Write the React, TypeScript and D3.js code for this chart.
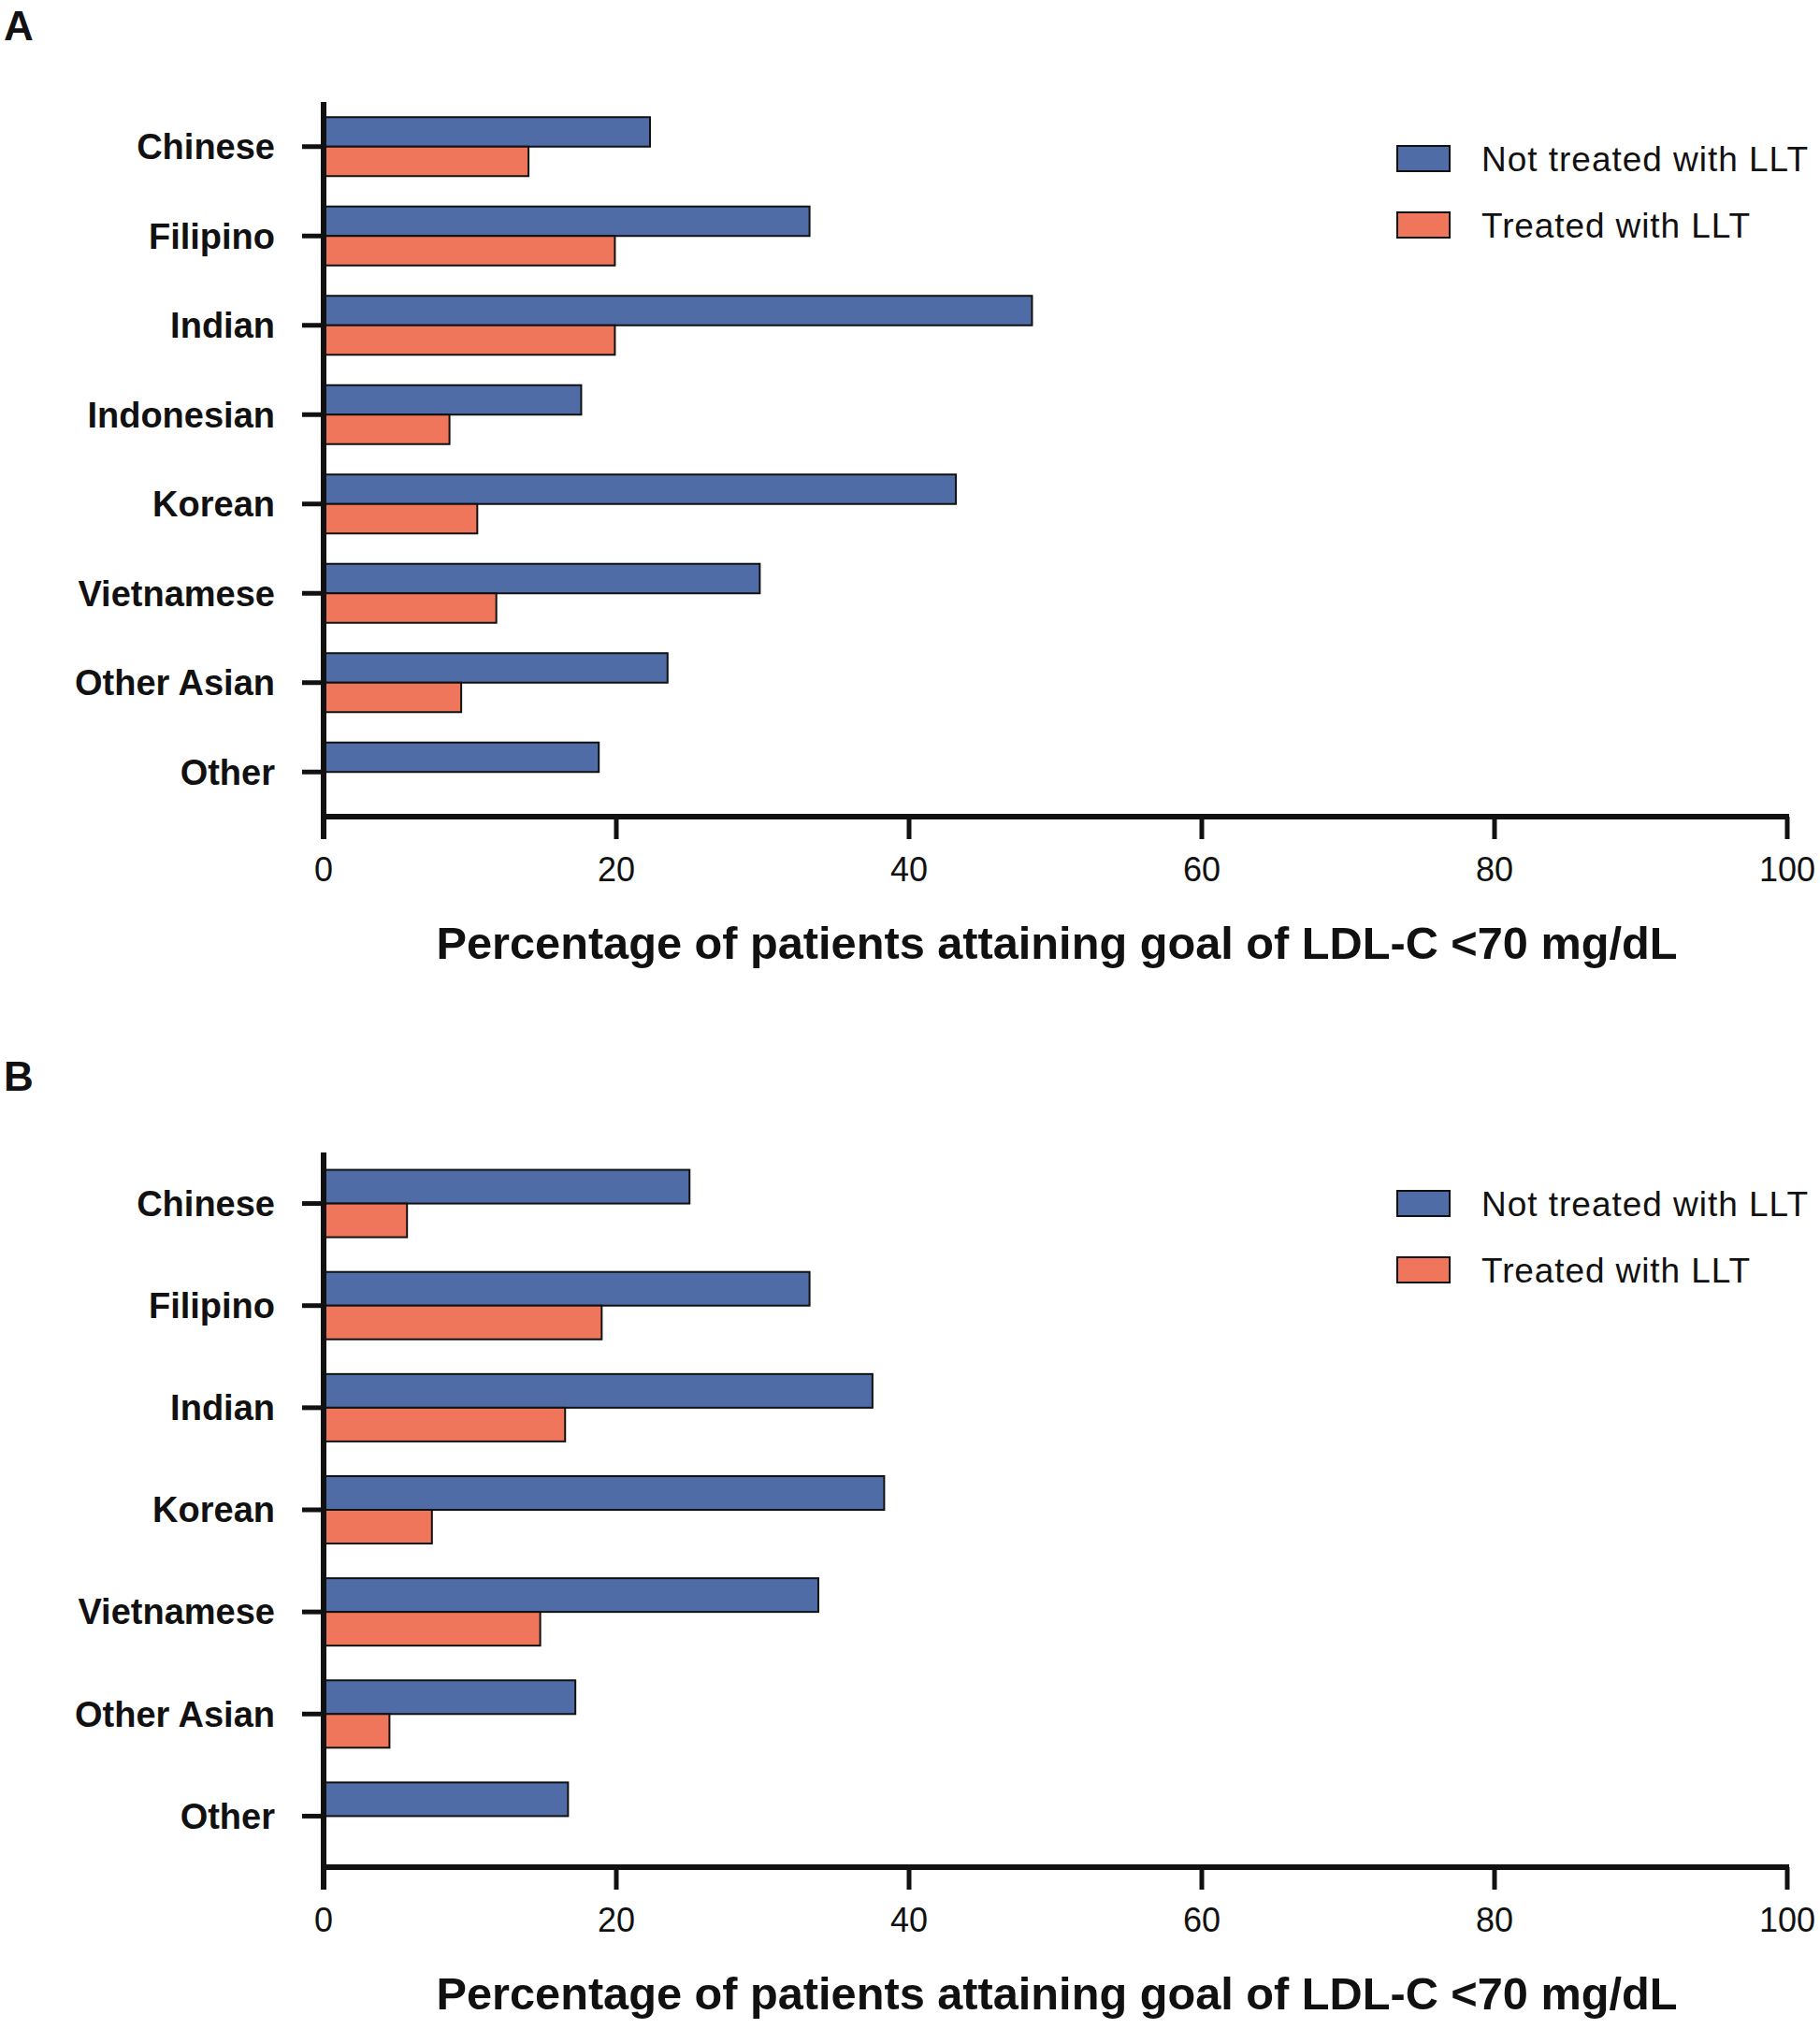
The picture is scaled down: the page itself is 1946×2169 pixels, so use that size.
import React from "react";
import * as d3 from "d3";

const categoriesA = ["Chinese", "Filipino", "Indian", "Indonesian", "Korean", "Vietnamese", "Other Asian", "Other"];
const notTreatedA = [22.3, 33.2, 48.4, 17.6, 43.2, 29.8, 23.5, 18.8];
const treatedA: (number | null)[] = [14.0, 19.9, 19.9, 8.6, 10.5, 11.8, 9.4, null];

const categoriesB = ["Chinese", "Filipino", "Indian", "Korean", "Vietnamese", "Other Asian", "Other"];
const notTreatedB = [25.0, 33.2, 37.5, 38.3, 33.8, 17.2, 16.7];
const treatedB: (number | null)[] = [5.7, 19.0, 16.5, 7.4, 14.8, 4.5, null];

const xTicks = [0, 20, 40, 60, 80, 100];
const seriesNames = ["Not treated with LLT", "Treated with LLT"];
const xTitle = "Percentage of patients attaining goal of LDL-C <70 mg/dL";

const BLUE = "#4F6CA7";
const RED = "#EF765B";
const FONT = "'Liberation Sans', Arial, Helvetica, sans-serif";

type PanelProps = {
  letter: string;
  categories: string[];
  blue: number[];
  red: (number | null)[];
  top: number;
  legendY: number;
};

function Panel({ letter, categories, blue, red, top, legendY }: PanelProps) {
  const x0 = 346;
  const x1 = 1911;
  const plotH = 764;
  const bottom = top + plotH;
  const x = d3.scaleLinear().domain([0, 100]).range([x0, x1]);
  const y = d3.scaleBand().domain(categories).range([top, bottom]).paddingInner(0).paddingOuter(0);
  const bw = y.bandwidth();
  const barH = bw * 0.33;

  return (
    <g>
      <text x={4} y={top - 66} fontFamily={FONT} fontWeight="bold" fontSize={44} fill="#111">
        {letter}
      </text>
      {categories.map((c, i) => {
        const cy = (y(c) as number) + bw / 2;
        const r = red[i];
        return (
          <g key={c}>
            <rect x={x(0)} y={cy - barH} width={x(blue[i]) - x(0)} height={barH} fill={BLUE} stroke="#111" strokeWidth={2} />
            {r !== null && (
              <rect x={x(0)} y={cy} width={x(r) - x(0)} height={barH} fill={RED} stroke="#111" strokeWidth={2} />
            )}
            <line x1={x0 - 23} x2={x0} y1={cy} y2={cy} stroke="#111" strokeWidth={5} />
            <text x={294} y={cy} dy="0.35em" textAnchor="end" fontFamily={FONT} fontWeight="bold" fontSize={38} fill="#111">
              {c}
            </text>
          </g>
        );
      })}
      <line x1={x0} x2={x0} y1={top} y2={bottom + 24} stroke="#111" strokeWidth={6} />
      <line x1={x0 - 3} x2={x1 + 2} y1={bottom} y2={bottom} stroke="#111" strokeWidth={6} />
      {xTicks.map((t) => (
        <g key={t}>
          <line x1={x(t)} x2={x(t)} y1={bottom} y2={bottom + 24} stroke="#111" strokeWidth={5} />
          <text x={x(t)} y={bottom + 69} textAnchor="middle" fontFamily={FONT} fontSize={36} fill="#111">
            {t}
          </text>
        </g>
      ))}
      <text
        x={1130}
        y={bottom + 152}
        textAnchor="middle"
        fontFamily={FONT}
        fontWeight="bold"
        fontSize={48}
        textLength={1327}
        lengthAdjust="spacingAndGlyphs"
        fill="#111"
      >
        {xTitle}
      </text>
      {seriesNames.map((s, i) => (
        <g key={s}>
          <rect x={1494} y={legendY + i * 71} width={56} height={27} fill={i === 0 ? BLUE : RED} stroke="#111" strokeWidth={2} />
          <text x={1584} y={legendY + i * 71 + 27} fontFamily={FONT} fontSize={37} textLength={i === 0 ? 349 : 287} fill="#111">
            {s}
          </text>
        </g>
      ))}
    </g>
  );
}

export default function App() {
  return (
    <svg
      width={1946}
      height={2169}
      style={{ position: "absolute", left: 0, top: 0, background: "#fff" }}
    >
      <rect x={0} y={0} width={1946} height={2169} fill="#fff" />
      <Panel letter="A" categories={categoriesA} blue={notTreatedA} red={treatedA} top={109} legendY={156} />
      <Panel letter="B" categories={categoriesB} blue={notTreatedB} red={treatedB} top={1232} legendY={1273} />
    </svg>
  );
}
